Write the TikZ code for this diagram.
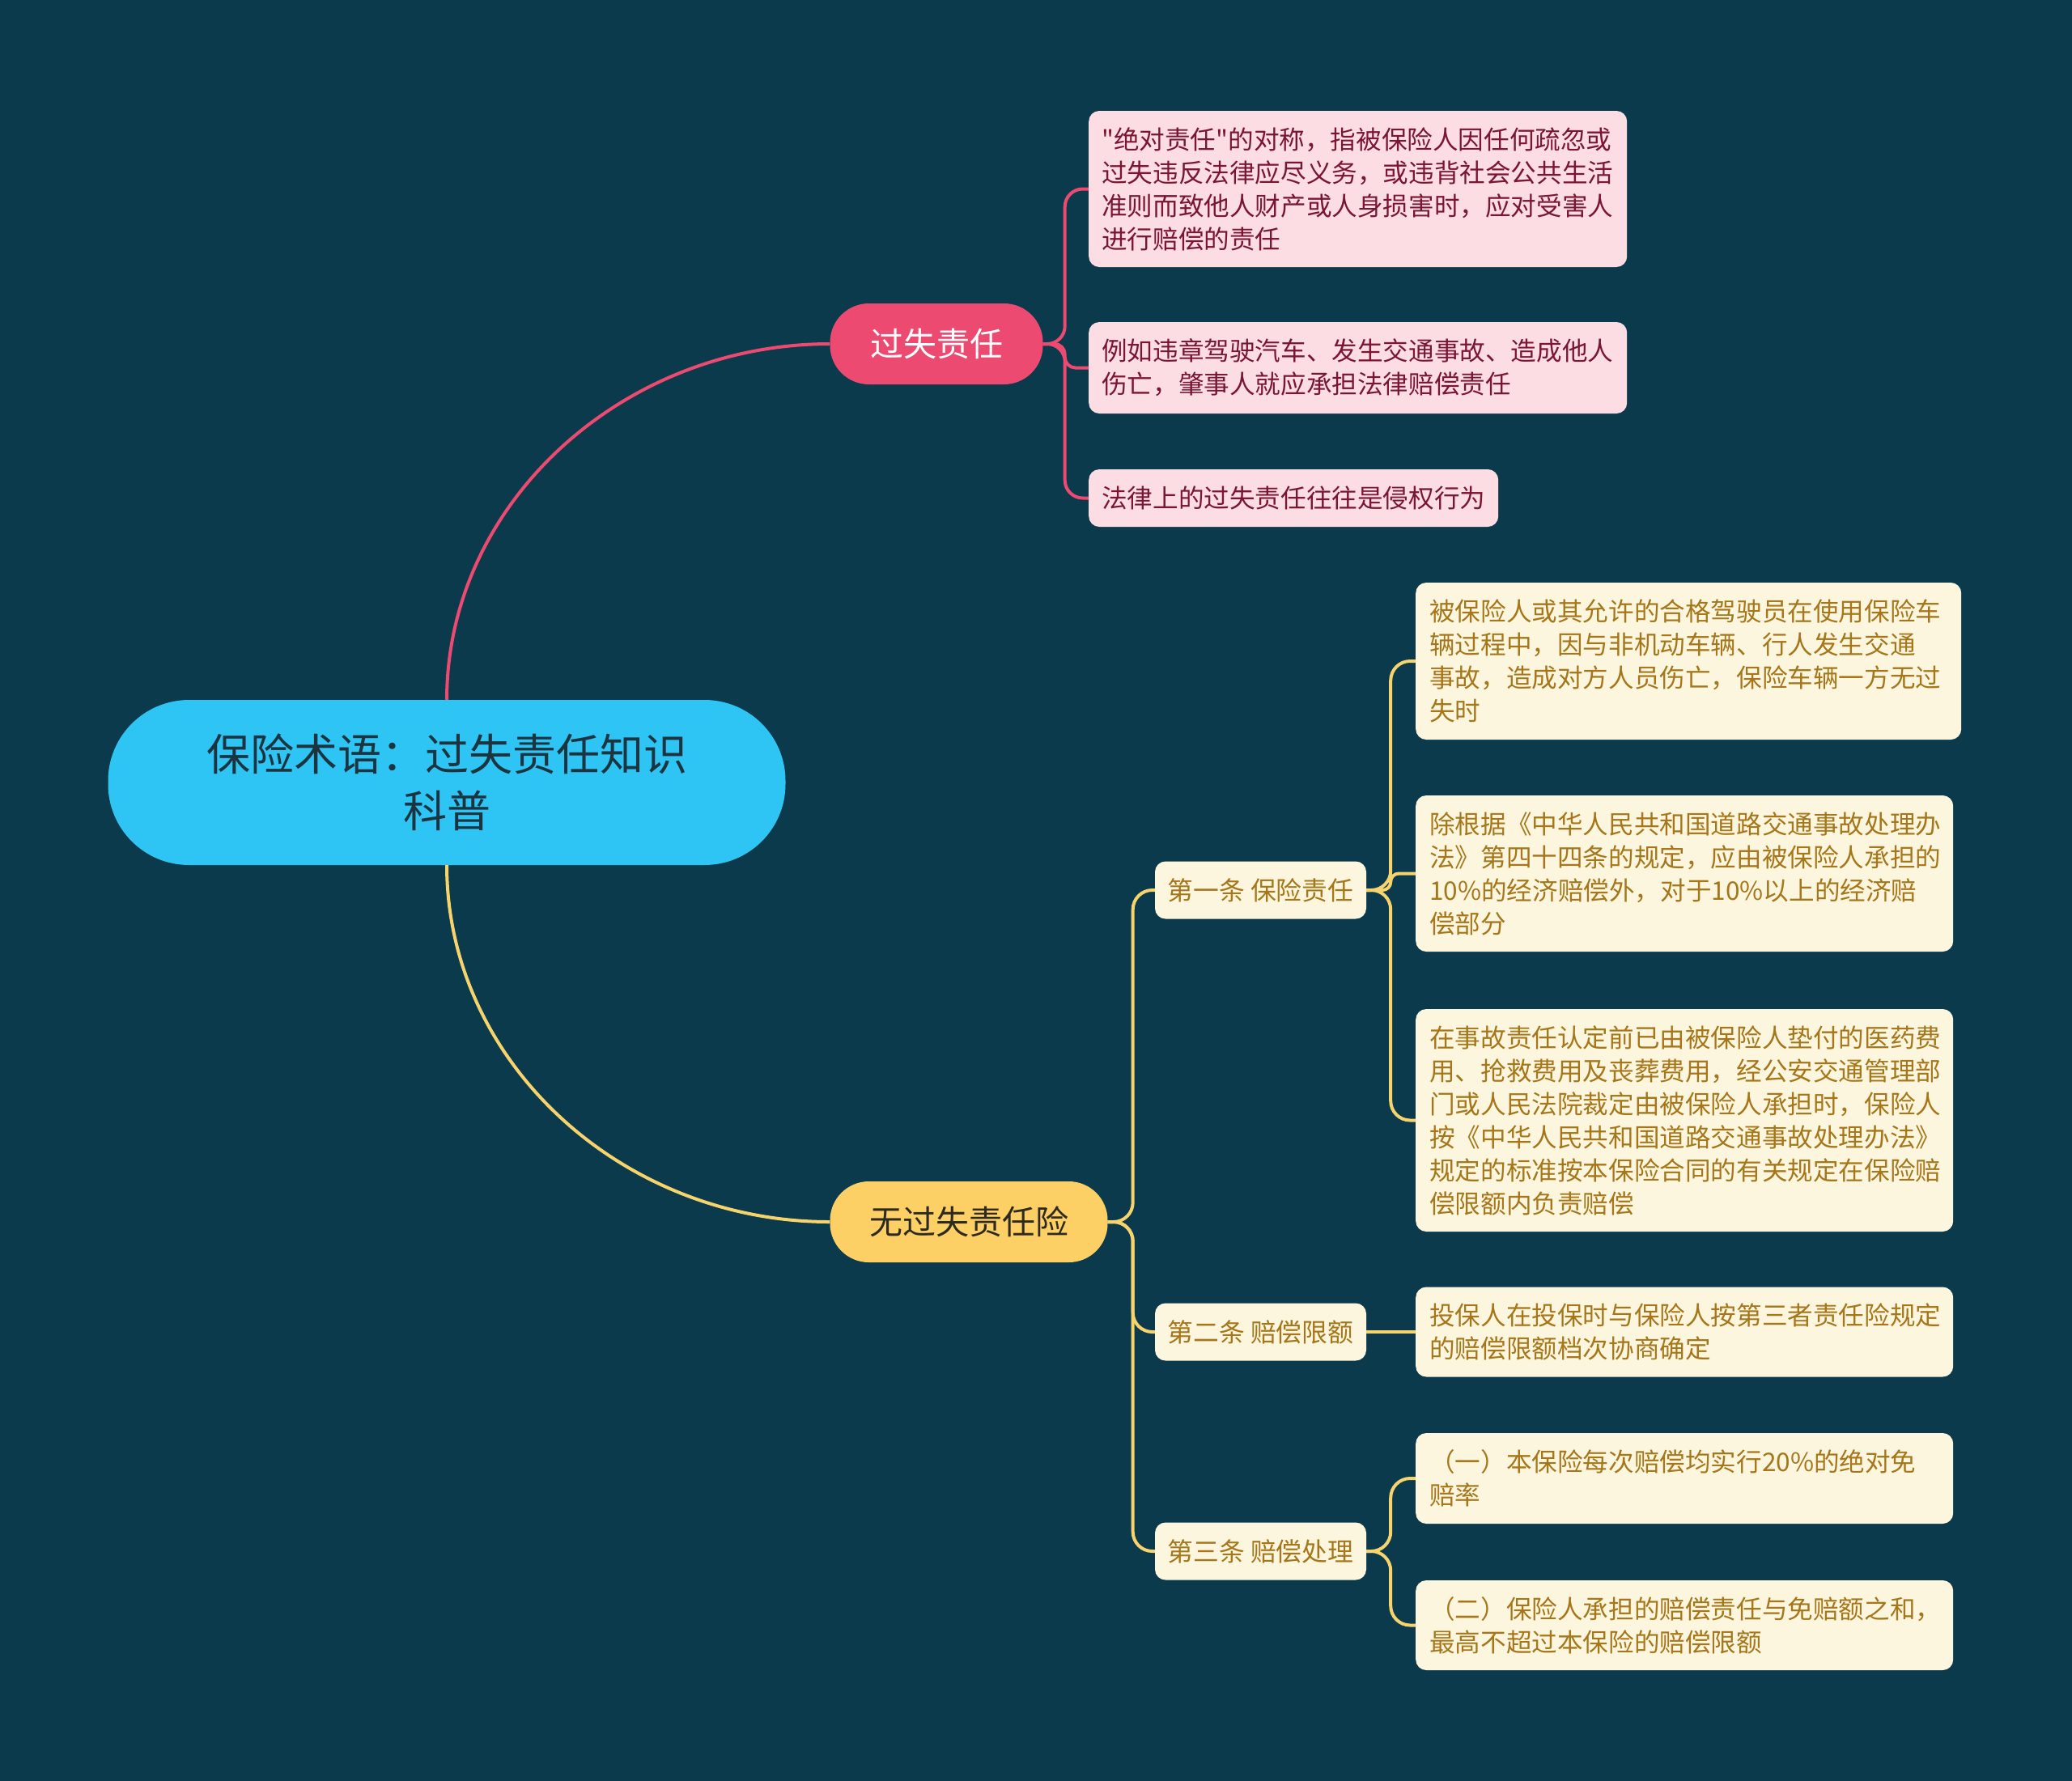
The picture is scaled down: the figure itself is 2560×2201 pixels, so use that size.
\documentclass[tikz,border=0pt]{standalone}
\usepackage{fontspec}
\setmainfont{Noto Sans CJK SC}[Ligatures=TeXOff]
\usetikzlibrary{calc}
\definecolor{bgc}{HTML}{0A3A4C}
\definecolor{rootc}{HTML}{2EC5F4}
\definecolor{roottext}{HTML}{1C3440}
\definecolor{pinkc}{HTML}{EC4A70}
\definecolor{pinkleaf}{HTML}{FCDDE4}
\definecolor{pinktext}{HTML}{7A1631}
\definecolor{yelc}{HTML}{FDD065}
\definecolor{yelline}{HTML}{F6D36C}
\definecolor{yelleaf}{HTML}{FDF6DE}
\definecolor{yeltext}{HTML}{A5761A}
\definecolor{darktext}{HTML}{2D2A22}
\tikzset{
  rootbox/.style={fill=rootc, text=roottext, rounded corners=100pt, minimum width=837pt, minimum height=204pt, align=center, inner sep=0pt, font=\fontsize{54}{70}\selectfont},
  branch/.style={rounded corners=48pt, minimum height=100pt, inner sep=0pt, font=\fontsize{41}{50}\selectfont},
  pleaf/.style={fill=pinkleaf, text=pinktext, rounded corners=13pt, anchor=west, align=left, inner xsep=16pt, inner ysep=0pt, font=\fontsize{31.6}{41}\selectfont},
  yleaf/.style={fill=yelleaf, text=yeltext, rounded corners=13pt, anchor=west, align=left, inner xsep=17pt, inner ysep=0pt, font=\fontsize{31.6}{41}\selectfont},
  subbox/.style={fill=yelleaf, text=yeltext, rounded corners=13pt, minimum width=261pt, minimum height=71pt, inner sep=0pt, font=\fontsize{31.8}{41}\selectfont},
  pline/.style={draw=pinkc, line width=4pt},
  yline/.style={draw=yelline, line width=4pt}
}
\begin{document}
\begin{tikzpicture}[x=1pt,y=-1pt]
\fill[bgc] (0,0) rectangle (2560,2201);
\useasboundingbox (0,0) rectangle (2560,2201);

% root and main branches
\node[rootbox] (root) at (552,967) {保险术语：过失责任知识\\科普};
\node[branch, fill=pinkc, text=white, minimum width=263pt] (gs) at (1157,425) {过失责任};
\node[branch, fill=yelc, text=darktext, minimum width=343pt] (wg) at (1197,1510) {无过失责任险};

% pink leaves
\node[pleaf, text width=633pt, minimum height=193pt] (p1) at (1345,233.5) {"绝对责任"的对称，指被保险人因任何疏忽或\\过失违反法律应尽义务，或违背社会公共生活\\准则而致他人财产或人身损害时，应对受害人\\进行赔偿的责任};
\node[pleaf, text width=633pt, minimum height=113pt] (p2) at (1345,454.5) {例如违章驾驶汽车、发生交通事故、造成他人\\伤亡，肇事人就应承担法律赔偿责任};
\node[pleaf, text width=474pt, minimum height=71pt] (p3) at (1345,615.5) {法律上的过失责任往往是侵权行为};

% sub nodes
\node[subbox] (s1) at (1557.5,1100) {第一条 保险责任};
\node[subbox] (s2) at (1557.5,1646) {第二条 赔偿限额};
\node[subbox] (s3) at (1557.5,1917) {第三条 赔偿处理};

% yellow leaves
\node[yleaf, text width=640pt, minimum height=194pt] (y1) at (1749,817) {被保险人或其允许的合格驾驶员在使用保险车\\辆过程中，因与非机动车辆、行人发生交通\\事故，造成对方人员伤亡，保险车辆一方无过\\失时};
\node[yleaf, text width=630pt, minimum height=193pt] (y2) at (1749,1079.5) {除根据《中华人民共和国道路交通事故处理办\\法》第四十四条的规定，应由被保险人承担的\\10\%的经济赔偿外，对于10\%以上的经济赔\\偿部分};
\node[yleaf, text width=630pt, minimum height=275pt] (y3) at (1749,1384.5) {在事故责任认定前已由被保险人垫付的医药费\\用、抢救费用及丧葬费用，经公安交通管理部\\门或人民法院裁定由被保险人承担时，保险人\\按《中华人民共和国道路交通事故处理办法》\\规定的标准按本保险合同的有关规定在保险赔\\偿限额内负责赔偿};
\node[yleaf, text width=630pt, minimum height=111pt] (y4) at (1749,1646) {投保人在投保时与保险人按第三者责任险规定\\的赔偿限额档次协商确定};
\node[yleaf, text width=630pt, minimum height=112pt] (y5) at (1749,1827) {（一）本保险每次赔偿均实行20\%的绝对免\\赔率};
\node[yleaf, text width=630pt, minimum height=111pt] (y6) at (1749,2008.5) {（二）保险人承担的赔偿责任与免赔额之和，\\最高不超过本保险的赔偿限额};

% root connectors
\draw[pline] (root.north) .. controls (552,623) and (768,425) .. (gs.west);
\draw[yline] (root.south) .. controls (552,1312) and (768,1510) .. (wg.west);

% pink brackets
\draw[pline, rounded corners=22pt] (gs.east) -- ++(27,0) |- (p1.west);
\draw[pline, rounded corners=13pt] (gs.east) -- ++(27,0) |- (p2.west);
\draw[pline, rounded corners=22pt] (gs.east) -- ++(27,0) |- (p3.west);

% yellow brackets
\draw[yline, rounded corners=24pt] (wg.east) -- ++(31,0) |- (s1.west);
\draw[yline, rounded corners=24pt] (wg.east) -- ++(31,0) |- (s2.west);
\draw[yline, rounded corners=24pt] (wg.east) -- ++(31,0) |- (s3.west);

\draw[yline, rounded corners=24pt] (s1.east) -- ++(30,0) |- (y1.west);
\draw[yline, rounded corners=10pt] (s1.east) -- ++(30,0) |- (y2.west);
\draw[yline, rounded corners=24pt] (s1.east) -- ++(30,0) |- (y3.west);
\draw[yline] (s2.east) -- (y4.west);
\draw[yline, rounded corners=24pt] (s3.east) -- ++(30,0) |- (y5.west);
\draw[yline, rounded corners=24pt] (s3.east) -- ++(30,0) |- (y6.west);
\end{tikzpicture}
\end{document}
